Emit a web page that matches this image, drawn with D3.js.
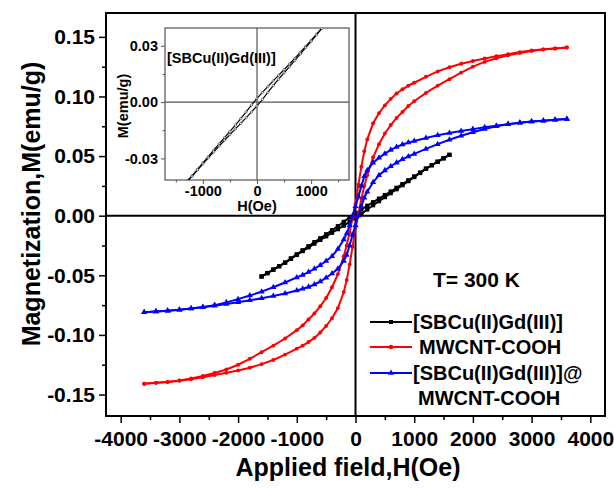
<!DOCTYPE html>
<html>
<head>
<meta charset="utf-8">
<script src="https://cdn.jsdelivr.net/npm/d3@7"></script>
<style>
  body { margin: 0; background: #fff; }
  text { font-family: Arial, "Liberation Sans", sans-serif; font-weight: bold; fill: #000; }
</style>
</head>
<body>
<svg id="chart" width="614" height="489"></svg>
<script>
// ---- data ----
const seriesNames = ["[SBCu(II)Gd(III)]", "MWCNT-COOH", "[SBCu(II)Gd(III)]@", "MWCNT-COOH"];

const fieldSweep = [-3600, -3400, -3200, -3000, -2800, -2600, -2400, -2200, -2000, -1800, -1600, -1400, -1200, -1000,
  -900, -800, -700, -600, -500, -400, -300, -200, -150, -100, -50, 0, 50, 100, 150, 200,
  300, 400, 500, 600, 700, 800, 900, 1000, 1200, 1400, 1600, 1800, 2000, 2200, 2400, 2600, 2800, 3000, 3200, 3400, 3600];

// MWCNT-COOH, branch coming down from +H and branch going up from -H
const redDown = [-0.1410, -0.1402, -0.1394, -0.1382, -0.1365, -0.1345, -0.1320, -0.1290, -0.1250, -0.1200, -0.1145, -0.1090, -0.1030, -0.0960,
  -0.0920, -0.0870, -0.0820, -0.0760, -0.0690, -0.0600, -0.0490, -0.0340, -0.0250, -0.0140, -0.0020, 0.0100,
  0.0260, 0.0410, 0.0540, 0.0640, 0.0775, 0.0860, 0.0925, 0.0980, 0.1025, 0.1060, 0.1090,
  0.1115, 0.1165, 0.1210, 0.1245, 0.1275, 0.1298, 0.1318, 0.1337, 0.1355, 0.1372, 0.1385, 0.1395, 0.1402, 0.1410];
const redUp = [-0.1410, -0.1402, -0.1395, -0.1385, -0.1372, -0.1355, -0.1337, -0.1318, -0.1298, -0.1275, -0.1245, -0.1210, -0.1165, -0.1115,
  -0.1090, -0.1060, -0.1025, -0.0980, -0.0925, -0.0860, -0.0775, -0.0640, -0.0540, -0.0410, -0.0260, -0.0100,
  0.0020, 0.0140, 0.0250, 0.0340, 0.0490, 0.0600, 0.0690, 0.0760, 0.0820, 0.0870, 0.0920,
  0.0960, 0.1030, 0.1090, 0.1145, 0.1200, 0.1250, 0.1290, 0.1320, 0.1345, 0.1365, 0.1382, 0.1394, 0.1402, 0.1410];

// [SBCu(II)Gd(III)]@MWCNT-COOH
const blueDown = [-0.0810, -0.0804, -0.0797, -0.0789, -0.0779, -0.0766, -0.0750, -0.0727, -0.0700, -0.0670, -0.0637, -0.0600, -0.0560, -0.0518,
  -0.0497, -0.0473, -0.0445, -0.0415, -0.0380, -0.0340, -0.0280, -0.0200, -0.0150, -0.0080, 0.0000, 0.0080,
  0.0160, 0.0250, 0.0330, 0.0380, 0.0445, 0.0485, 0.0520, 0.0552, 0.0577, 0.0597, 0.0613,
  0.0627, 0.0652, 0.0674, 0.0693, 0.0710, 0.0726, 0.0741, 0.0755, 0.0768, 0.0779, 0.0789, 0.0797, 0.0804, 0.0810];
const blueUp = [-0.0810, -0.0804, -0.0797, -0.0789, -0.0779, -0.0768, -0.0755, -0.0741, -0.0726, -0.0710, -0.0693, -0.0674, -0.0652, -0.0627,
  -0.0613, -0.0597, -0.0577, -0.0552, -0.0520, -0.0485, -0.0445, -0.0380, -0.0330, -0.0250, -0.0160, -0.0080,
  0.0000, 0.0080, 0.0150, 0.0200, 0.0280, 0.0340, 0.0380, 0.0415, 0.0445, 0.0473, 0.0497,
  0.0518, 0.0560, 0.0600, 0.0637, 0.0670, 0.0700, 0.0727, 0.0750, 0.0766, 0.0779, 0.0789, 0.0797, 0.0804, 0.0810];

// [SBCu(II)Gd(III)]
const blackField = [-1600, -1500, -1400, -1300, -1200, -1100, -1000, -900, -800, -700, -600, -500, -400, -300, -200, -100, 0,
  100, 200, 300, 400, 500, 600, 700, 800, 900, 1000, 1100, 1200, 1300, 1400, 1500, 1600];
const blackDown = [-0.0510, -0.0481, -0.0452, -0.0423, -0.0393, -0.0358, -0.0324, -0.0290, -0.0256, -0.0222, -0.0189, -0.0156, -0.0122, -0.0088, -0.0052, -0.0015, 0.0020,
  0.0052, 0.0083, 0.0113, 0.0143, 0.0173, 0.0203, 0.0234, 0.0265, 0.0297, 0.0329, 0.0362, 0.0395, 0.0424, 0.0453, 0.0482, 0.0510];
const blackUp = [-0.0510, -0.0482, -0.0453, -0.0424, -0.0395, -0.0362, -0.0329, -0.0297, -0.0265, -0.0234, -0.0203, -0.0173, -0.0143, -0.0113, -0.0083, -0.0052, -0.0020,
  0.0015, 0.0052, 0.0088, 0.0122, 0.0156, 0.0189, 0.0222, 0.0256, 0.0290, 0.0324, 0.0358, 0.0393, 0.0423, 0.0452, 0.0481, 0.0510];

const xTicks = [-4000, -3000, -2000, -1000, 0, 1000, 2000, 3000, 4000];
const xMinor = [-3500, -2500, -1500, -500, 500, 1500, 2500, 3500];
const yTicks = [-0.15, -0.10, -0.05, 0.00, 0.05, 0.10, 0.15];
const yMinor = [-0.125, -0.075, -0.025, 0.025, 0.075, 0.125];
const insetXTicks = [-1000, 0, 1000];
const insetXMinor = [-1500, -500, 500, 1500];
const insetYTicks = [-0.03, 0.00, 0.03];
const insetYMinor = [-0.015, 0.015];

// ---- drawing ----
const svg = d3.select("#chart");
svg.append("rect").attr("width", 614).attr("height", 489).attr("fill", "#fff");

const x = d3.scaleLinear().domain([-4250, 4250]).range([106, 605]);
const y = d3.scaleLinear().domain([-0.168, 0.17]).range([416, 13]);

const zip = (hs, ms) => hs.map((h, i) => [h, ms[i]]);

function drawAxes(g, xs, ys, opt) {
  const [x0, x1] = xs.range();
  const [y0, y1] = ys.range();
  g.append("g").attr("transform", `translate(0,${y0})`)
    .call(d3.axisBottom(xs).tickValues(opt.xt).tickSize(opt.major).tickPadding(opt.xpad).tickFormat(d => String(d)));
  g.append("g").attr("transform", `translate(0,${y0})`)
    .call(d3.axisBottom(xs).tickValues(opt.xm).tickSize(opt.minor).tickFormat(""));
  g.append("g").attr("transform", `translate(${x0},0)`)
    .call(d3.axisLeft(ys).tickValues(opt.yt).tickSize(opt.major).tickPadding(opt.ypad).tickFormat(d => d.toFixed(2)));
  g.append("g").attr("transform", `translate(${x0},0)`)
    .call(d3.axisLeft(ys).tickValues(opt.ym).tickSize(opt.minor).tickFormat(""));
  g.selectAll(".domain").remove();
  g.selectAll(".tick line").attr("stroke", opt.color).attr("stroke-width", opt.sw);
  g.selectAll(".tick text").attr("font-size", opt.font).attr("font-family", null).attr("fill", "#000");
  // frame
  g.append("rect").attr("x", x0).attr("y", y1).attr("width", x1 - x0).attr("height", y0 - y1)
    .attr("fill", "none").attr("stroke", opt.color).attr("stroke-width", opt.frame);
  // zero lines
  g.append("line").attr("x1", x0).attr("x2", x1).attr("y1", ys(0)).attr("y2", ys(0))
    .attr("stroke", opt.color).attr("stroke-width", opt.zero);
  g.append("line").attr("x1", xs(0)).attr("x2", xs(0)).attr("y1", y0).attr("y2", y1)
    .attr("stroke", opt.color).attr("stroke-width", opt.zero);
}

drawAxes(svg.append("g"), x, y, {
  xt: xTicks, xm: xMinor, yt: yTicks, ym: yMinor, major: 7, minor: 4,
  xpad: 8, ypad: 4, font: 21, color: "#000", sw: 1.5, frame: 2, zero: 2
});

const line = d3.line().x(d => x(d[0])).y(d => y(d[1]));

function drawSeries(g, pts, color, symbolType, size, lw) {
  g.append("path").datum(pts).attr("d", line).attr("fill", "none")
    .attr("stroke", color).attr("stroke-width", lw);
  g.selectAll(null).data(pts).enter().append("path")
    .attr("transform", d => `translate(${x(d[0])},${y(d[1])})`)
    .attr("d", d3.symbol().type(symbolType).size(size))
    .attr("fill", color);
}

const plot = svg.append("g");
drawSeries(plot, zip(blackField, blackDown).reverse(), "#000", d3.symbolSquare, 18, 2);
drawSeries(plot, zip(blackField, blackUp), "#000", d3.symbolSquare, 18, 2);
drawSeries(plot, zip(fieldSweep, redDown).reverse(), "#ff0000", d3.symbolCircle, 12, 2);
drawSeries(plot, zip(fieldSweep, redUp), "#ff0000", d3.symbolCircle, 12, 2);
drawSeries(plot, zip(fieldSweep, blueDown).reverse(), "#0000ff", d3.symbolTriangle, 16, 2);
drawSeries(plot, zip(fieldSweep, blueUp), "#0000ff", d3.symbolTriangle, 16, 2);

// axis titles
svg.append("text").attr("x", 348).attr("y", 476).attr("text-anchor", "middle")
  .attr("font-size", 25).text("Applied field,H(Oe)");
svg.append("text").attr("transform", "translate(40,204) rotate(-90)").attr("text-anchor", "middle")
  .attr("font-size", 25).text("Magnetization,M(emu/g)");

// temperature note + legend
svg.append("text").attr("x", 433).attr("y", 287).attr("font-size", 21).text("T= 300 K");

const legend = svg.append("g");
const legendRows = [
  { name: seriesNames[0], color: "#000", sym: d3.symbolSquare, y: 322, tx: 413 },
  { name: seriesNames[1], color: "#ff0000", sym: d3.symbolCircle, y: 347, tx: 419 },
  { name: seriesNames[2], color: "#0000ff", sym: d3.symbolTriangle, y: 373, tx: 413 }
];
legendRows.forEach(r => {
  legend.append("line").attr("x1", 370).attr("x2", 412).attr("y1", r.y).attr("y2", r.y)
    .attr("stroke", r.color).attr("stroke-width", 2);
  legend.append("path").attr("transform", `translate(391,${r.y})`)
    .attr("d", d3.symbol().type(r.sym).size(16)).attr("fill", r.color);
  legend.append("text").attr("x", r.tx).attr("y", r.y + 7).attr("font-size", 20).text(r.name);
});
legend.append("text").attr("x", 418).attr("y", 405).attr("font-size", 20).text(seriesNames[3]);

// ---- inset ----
const ix = d3.scaleLinear().domain([-1700, 1700]).range([165, 349]);
const iy = d3.scaleLinear().domain([-0.0415, 0.0395]).range([180, 28]);
const inset = svg.append("g");
inset.append("rect").attr("x", 165).attr("y", 28).attr("width", 184).attr("height", 152).attr("fill", "#fff");
drawAxes(inset, ix, iy, {
  xt: insetXTicks, xm: insetXMinor, yt: insetYTicks, ym: insetYMinor, major: 4, minor: 2.5,
  xpad: 2, ypad: 3, font: 14.5, color: "#555", sw: 1, frame: 1.2, zero: 1.2
});
svg.append("clipPath").attr("id", "insetClip").append("rect")
  .attr("x", 165).attr("y", 28).attr("width", 184).attr("height", 152);
const iline = d3.line().x(d => ix(d[0])).y(d => iy(d[1]));
const ic = inset.append("g").attr("clip-path", "url(#insetClip)");
[blackDown, blackUp].forEach(ms => {
  const pts = zip(blackField, ms);
  ic.append("path").datum(pts).attr("d", iline).attr("fill", "none")
    .attr("stroke", "#000").attr("stroke-width", 1.2);
  ic.selectAll(null).data(pts).enter().append("circle")
    .attr("cx", d => ix(d[0])).attr("cy", d => iy(d[1])).attr("r", 1.2)
    .attr("fill", "#ddd").attr("stroke", "#333").attr("stroke-width", 0.5);
});
inset.append("text").attr("x", 167).attr("y", 63).attr("font-size", 14.5).text(seriesNames[0]);
inset.append("text").attr("x", 257).attr("y", 211).attr("text-anchor", "middle")
  .attr("font-size", 14.5).text("H(Oe)");
inset.append("text").attr("transform", "translate(128,106) rotate(-90)").attr("text-anchor", "middle")
  .attr("font-size", 14.5).text("M(emu/g)");
</script>
</body>
</html>
